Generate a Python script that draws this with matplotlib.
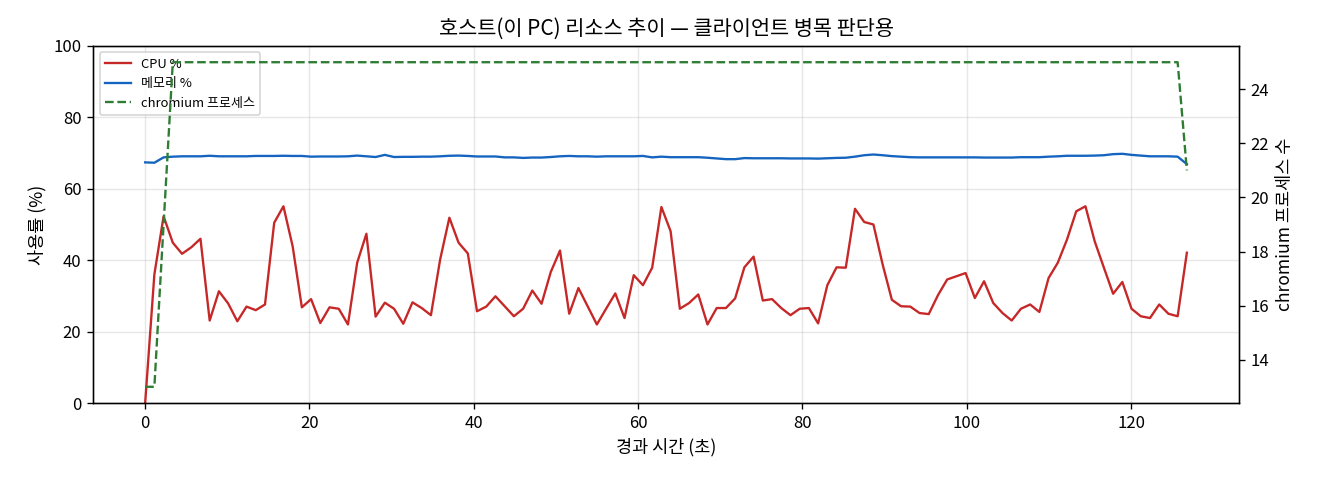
import numpy as np
import matplotlib
matplotlib.use("Agg")
import matplotlib.pyplot as plt

plt.rcParams['font.family'] = ['Noto Sans CJK KR', 'DejaVu Sans']
plt.rcParams['axes.unicode_minus'] = False

SAMPLE_INTERVAL_S = 1.122

cpu_pct = [
    0, 36.0, 52.3, 44.9, 41.8, 43.6, 46.0, 23.1, 31.3, 27.9,
    22.9, 27.0, 26.0, 27.6, 50.5, 55.1, 43.9, 26.8, 29.1, 22.4,
    26.8, 26.4, 22.0, 39.3, 47.4, 24.2, 28.1, 26.4, 22.2, 28.2,
    26.6, 24.6, 40.2, 51.9, 44.9, 41.9, 25.7, 27.0, 29.9, 27.1,
    24.3, 26.4, 31.5, 27.8, 36.7, 42.7, 25.0, 32.2, 27.1, 22.0,
    26.4, 30.7, 23.8, 35.8, 33.0, 37.9, 54.9, 48.1, 26.4, 28.0,
    30.4, 22.0, 26.6, 26.6, 29.3, 38.0, 41.0, 28.7, 29.1, 26.6,
    24.6, 26.4, 26.6, 22.3, 33.0, 38.0, 37.9, 54.4, 50.7, 50.0,
    38.8, 28.9, 27.1, 27.0, 25.2, 24.9, 30.2, 34.6, 35.5, 36.4,
    29.4, 34.1, 28.0, 25.2, 23.1, 26.4, 27.6, 25.5, 35.0, 39.3,
    45.8, 53.7, 55.1, 45.3, 37.9, 30.6, 33.9, 26.4, 24.3, 23.8,
    27.6, 25.0, 24.3, 42.1,
]

mem_pct = [
    67.4, 67.3, 68.8, 69.0, 69.1, 69.1, 69.1, 69.25, 69.1, 69.1,
    69.1, 69.1, 69.2, 69.2, 69.2, 69.25, 69.2, 69.2, 69.0, 69.05,
    69.05, 69.05, 69.1, 69.3, 69.1, 68.9, 69.5, 68.9, 68.95, 68.95,
    69.0, 69.0, 69.1, 69.25, 69.3, 69.2, 69.05, 69.05, 69.05, 68.8,
    68.8, 68.65, 68.75, 68.75, 68.9, 69.1, 69.2, 69.1, 69.1, 69.0,
    69.1, 69.1, 69.1, 69.1, 69.2, 68.8, 69.0, 68.85, 68.85, 68.85,
    68.85, 68.7, 68.5, 68.3, 68.3, 68.6, 68.55, 68.55, 68.55, 68.55,
    68.5, 68.5, 68.5, 68.45, 68.55, 68.65, 68.7, 69.0, 69.4, 69.6,
    69.4, 69.15, 69.0, 68.85, 68.8, 68.8, 68.8, 68.8, 68.8, 68.8,
    68.8, 68.75, 68.75, 68.75, 68.75, 68.85, 68.85, 68.85, 69.0, 69.1,
    69.25, 69.25, 69.25, 69.3, 69.4, 69.7, 69.8, 69.5, 69.3, 69.1,
    69.1, 69.1, 69.0, 66.9,
]

chromium_procs = [13, 13, 19] + [25] * 110 + [21]

elapsed = np.arange(len(cpu_pct)) * SAMPLE_INTERVAL_S

fig = plt.figure(figsize=(11, 4), dpi=120)
ax1 = fig.add_axes([0.0705, 0.1604, 0.9386 - 0.0705, 0.9042 - 0.1604])

l1, = ax1.plot(elapsed, cpu_pct, color='#c62828', lw=1.4, label='CPU %')
l2, = ax1.plot(elapsed, mem_pct, color='#1565c0', lw=1.4, label='메모리 %')
ax1.set_ylim(0, 100)
ax1.set_xlabel('경과 시간 (초)', fontsize=10.5)
ax1.set_ylabel('사용률 (%)', fontsize=10.5)
ax1.grid(True, alpha=0.3)
ax1.tick_params(labelsize=10)

ax2 = ax1.twinx()
l3, = ax2.plot(elapsed, chromium_procs, color='#2e7d32', lw=1.4, ls='--',
               label='chromium 프로세스')
ax2.set_ylabel('chromium 프로세스 수', fontsize=10.5)
ax2.tick_params(labelsize=10)

ax1.legend(handles=[l1, l2, l3], loc='upper left', fontsize=7.8)
ax1.set_title('호스트(이 PC) 리소스 추이 — 클라이언트 병목 판단용', fontsize=12.5, pad=7)

fig.savefig('out.png', dpi=120)
